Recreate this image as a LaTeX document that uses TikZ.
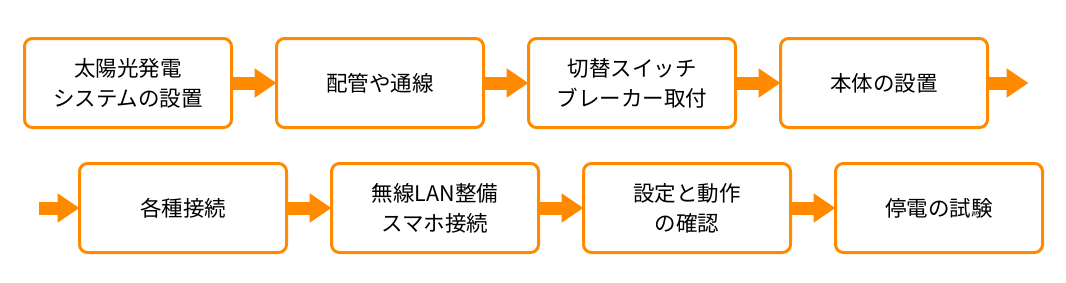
\documentclass[tikz,border=0pt]{standalone}
\usepackage{fontspec}
\newfontfamily\jpfont{Noto Sans CJK JP}
\usetikzlibrary{arrows.meta}
\definecolor{orng}{HTML}{FF8A00}
\begin{document}
\begin{tikzpicture}[x=1pt,y=-1pt,
  stepbox/.style={draw=orng,line width=3pt,rounded corners=8pt,fill=white,
    minimum width=207pt,minimum height=89pt,inner sep=0pt,outer sep=0pt,
    align=center,font=\jpfont\fontsize{21.5pt}{30pt}\selectfont,anchor=north west},
  flow/.style={draw=orng,line width=13pt,-{Triangle[length=22pt,width=28pt]}}]
\useasboundingbox[fill=white] (0,0) rectangle (1066,282);
\node[stepbox] (b1) at (24.5,38.5) {太陽光発電\\システムの設置};
\node[stepbox] (b2) at (276.5,38.5) {配管や通線};
\node[stepbox] (b3) at (528.5,38.5) {切替スイッチ\\ブレーカー取付};
\node[stepbox] (b4) at (780.5,38.5) {本体の設置};
\node[stepbox] (b5) at (79.5,163.5) {各種接続};
\node[stepbox] (b6) at (331.5,163.5) {無線LAN整備\\スマホ接続};
\node[stepbox] (b7) at (583.5,163.5) {設定と動作\\の確認};
\node[stepbox] (b8) at (835.5,163.5) {停電の試験};
\coordinate (out) at ([xshift=41pt]b4.east);
\coordinate (in) at ([xshift=-41pt]b5.west);
\draw[flow] (b1.east) -- (b2.west);
\draw[flow] (b2.east) -- (b3.west);
\draw[flow] (b3.east) -- (b4.west);
\draw[flow] (b4.east) -- (out);
\draw[flow] (in) -- (b5.west);
\draw[flow] (b5.east) -- (b6.west);
\draw[flow] (b6.east) -- (b7.west);
\draw[flow] (b7.east) -- (b8.west);
\end{tikzpicture}
\end{document}
